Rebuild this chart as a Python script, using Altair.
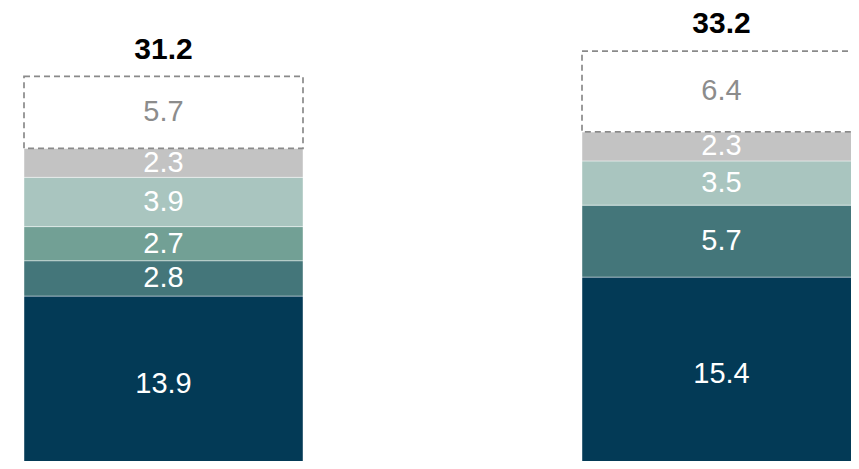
import altair as alt
import pandas as pd

# ---- data ----
bars = ["Bar 1", "Bar 2"]
segments = ["Segment A", "Segment B", "Segment C", "Segment D", "Segment E", "Segment F"]
bar1_values = [13.9, 2.8, 2.7, 3.9, 2.3, 5.7]
bar2_values = [15.4, 5.7, 0.0, 3.5, 2.3, 6.4]
totals = [31.2, 33.2]

seg_colors = ["#033a56", "#44767a", "#72a095", "#a9c5bf", "#c3c3c3", "#ffffff"]
label_colors = ["#ffffff", "#ffffff", "#ffffff", "#ffffff", "#ffffff", "#8c8c8c"]

rows = []
for b, vals in zip(bars, [bar1_values, bar2_values]):
    for i, (s, v) in enumerate(zip(segments, vals)):
        if v > 0:
            rows.append({"bar": b, "segment": s, "value": v, "order": i,
                         "label": f"{v:.1f}", "dashed": s == segments[-1]})
df = pd.DataFrame(rows)
tot_df = pd.DataFrame({"bar": bars, "total": totals,
                       "label": [f"{t:.1f}" for t in totals]})

x_enc = alt.X("bar:N", axis=None,
              scale=alt.Scale(range=[16, 853], paddingInner=0.5, paddingOuter=0))
y_scale = alt.Scale(domain=[0.84, 36.71], zero=False, nice=False)

base = alt.Chart(df).transform_stack(
    stack="value", as_=["y0", "y1"], groupby=["bar"],
    sort=[alt.SortField("order", order="ascending")]
).transform_calculate(mid="(datum.y0 + datum.y1) / 2")

color_scale = alt.Scale(domain=segments, range=seg_colors)

rects = base.mark_bar(stroke="white", strokeWidth=0.8, strokeOpacity=0.55).encode(
    x=x_enc,
    y=alt.Y("y1:Q", scale=y_scale, axis=None),
    y2="y0:Q",
    color=alt.Color("segment:N", scale=color_scale, legend=None),
)

dashed = base.transform_filter("datum.dashed").mark_bar(
    fill="white", fillOpacity=0, stroke="#8a8a8a", strokeWidth=1.7,
    strokeDash=[6, 4]
).encode(
    x=x_enc,
    y=alt.Y("y1:Q", scale=y_scale, axis=None),
    y2="y0:Q",
)

labels = base.mark_text(font="Liberation Sans", fontSize=29, baseline="middle",
                        align="center").encode(
    x=x_enc,
    y=alt.Y("mid:Q", scale=y_scale, axis=None),
    text="label:N",
    color=alt.Color("segment:N", scale=alt.Scale(domain=segments, range=label_colors),
                    legend=None),
)

total_text = alt.Chart(tot_df).mark_text(
    font="Liberation Sans", fontSize=30, fontWeight="bold", color="#000000",
    baseline="middle", align="center", dy=-28
).encode(
    x=x_enc,
    y=alt.Y("total:Q", scale=y_scale, axis=None),
    text="label:N",
)

chart = alt.layer(rects, dashed, labels, total_text).resolve_scale(
    color="independent"
).properties(
    width=843, height=453, padding=0, autosize=alt.AutoSizeParams(type="none"),
    background="white",
).configure_view(stroke=None)

chart.save("out.html", embed_options={"renderer": "svg", "actions": False})
